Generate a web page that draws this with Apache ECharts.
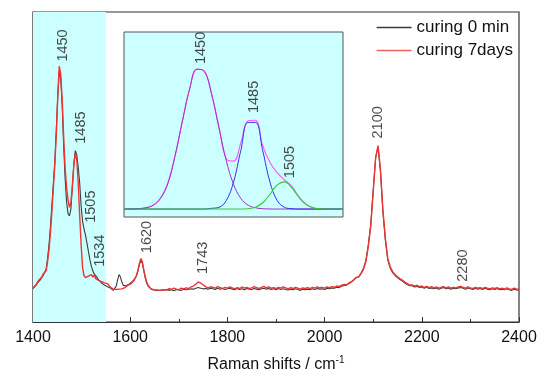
<!DOCTYPE html>
<html><head><meta charset="utf-8">
<script src="https://cdn.jsdelivr.net/npm/echarts@6/dist/echarts.min.js"></script>
<style>html,body{margin:0;padding:0;background:#fff}#c{width:545px;height:378px}</style>
</head><body><div id="c"></div>
<script>
// ---------- main spectrum ----------
const seriesNames = ['curing 0 min', 'curing 7days'];
// sampling grid: region A 1400..1667 step 3 (90 pts), region B 1670..2400 step 5 (147 pts)
const gridA = {start: 1400, step: 3, count: 90};
const gridB = {start: 1670, step: 5, count: 147};

const grayA = [
  10.8, 11.2, 11.8, 12.5, 13.0, 13.6, 14.2, 15.0, 15.5, 17.0,
  20.5, 25.0, 31.0, 38.0, 45.0, 52.0, 62.0, 73.0, 81.0, 78.5,
  70.0, 57.0, 46.5, 39.0, 35.0, 34.2, 36.5, 43.5, 51.0, 55.3,
  54.0, 50.0, 45.0, 37.5, 32.5, 30.0, 28.0, 25.5, 22.8, 20.2,
  18.0, 16.5, 15.5, 15.0, 14.3, 13.6, 13.1, 12.6, 12.3, 11.9,
  11.6, 11.4, 11.2, 11.0, 10.8, 10.2, 10.0, 11.5, 13.5, 15.3,
  14.5, 12.8, 11.8, 11.5, 11.7, 12.0, 12.3, 12.7, 13.0, 13.5,
  14.0, 15.0, 16.5, 18.5, 19.8, 19.0, 16.5, 14.2, 12.5, 11.5,
  11.0, 10.6, 10.5, 10.3, 10.4, 10.2, 10.3, 10.2, 10.4, 10.3
];
const redA = [
  11.0, 11.5, 12.0, 12.8, 13.5, 13.2, 14.5, 15.5, 15.0, 16.5,
  19.5, 23.5, 29.0, 36.0, 43.5, 51.0, 61.0, 73.0, 82.5, 80.0,
  72.0, 60.0, 50.0, 43.5, 39.5, 37.0, 38.5, 44.0, 50.5, 54.2,
  52.5, 45.0, 34.5, 25.0, 17.5, 15.0, 14.3, 14.0, 14.8, 14.2,
  15.3, 14.5, 15.2, 14.0, 14.6, 13.4, 13.8, 13.0, 13.5, 12.6,
  13.1, 12.4, 12.0, 11.3, 11.2, 10.6, 10.3, 10.5, 10.2, 10.6,
  10.8, 10.7, 11.2, 11.1, 11.6, 11.8, 11.9, 12.3, 12.6, 13.2,
  13.8, 15.0, 16.8, 19.0, 20.5, 19.5, 16.8, 14.6, 12.8, 11.8,
  11.2, 10.7, 10.6, 10.4, 10.7, 10.3, 10.5, 10.2, 10.6, 10.4
];
const grayB = [
  10.3, 10.5, 10.2, 10.4, 10.1, 10.5, 10.3, 10.2, 10.6, 10.4,
  10.5, 10.7, 10.6, 10.9, 11.1, 10.9, 10.7, 10.8, 10.6, 10.9,
  10.7, 10.5, 10.9, 10.6, 10.8, 10.5, 10.7, 10.9, 10.6, 10.4,
  10.8, 10.5, 10.7, 10.4, 10.8, 10.6, 10.5, 10.8, 10.6, 10.4,
  10.7, 10.9, 10.6, 10.8, 10.5, 10.7, 10.4, 10.8, 10.5, 10.7,
  10.5, 10.3, 10.6, 10.4, 10.7, 10.5, 10.2, 10.6, 10.4, 10.6,
  10.4, 10.7, 10.5, 10.8, 10.6, 10.7, 10.5, 10.9, 10.7, 11.0,
  10.9, 11.2, 11.1, 11.5, 11.8, 11.9, 12.4, 12.9, 13.5, 14.3,
  14.6, 15.8, 17.3, 19.9, 25.0, 31.5, 42.5, 53.0, 56.5, 48.5,
  35.5, 26.5, 20.0, 17.4, 15.9, 15.0, 14.3, 13.7, 13.2, 12.6,
  12.1, 11.7, 11.7, 11.3, 11.5, 11.1, 11.3, 10.9, 11.2, 10.8,
  11.0, 10.7, 11.0, 10.6, 10.9, 11.1, 10.7, 11.0, 10.6, 10.9,
  10.7, 11.0, 11.1, 10.9, 10.6, 11.0, 10.7, 10.5, 10.9, 10.6,
  10.8, 10.5, 10.9, 10.6, 10.4, 10.7, 10.5, 10.8, 10.4, 10.6,
  10.4, 10.7, 10.4, 10.2, 10.6, 10.3, 10.3
];
const redB = [
  10.6, 10.3, 10.8, 10.5, 10.9, 10.6, 10.4, 10.9, 10.7, 11.0,
  10.8, 11.3, 11.6, 12.2, 12.9, 12.6, 12.0, 11.4, 11.0, 11.3,
  11.2, 10.9, 11.4, 11.1, 10.8, 11.2, 10.9, 11.3, 11.0, 10.7,
  11.1, 10.8, 11.3, 10.9, 11.2, 10.8, 11.0, 11.4, 11.1, 10.8,
  11.2, 11.5, 11.0, 11.3, 10.9, 11.1, 10.8, 11.2, 10.9, 11.3,
  11.0, 10.7, 11.1, 10.8, 11.2, 10.9, 10.6, 11.0, 10.8, 11.1,
  10.8, 11.2, 10.9, 11.3, 11.0, 11.2, 10.9, 11.3, 11.1, 11.4,
  11.2, 11.6, 11.4, 11.9, 12.1, 12.0, 12.6, 13.0, 13.6, 14.4,
  14.5, 15.6, 17.0, 19.5, 24.5, 31.0, 42.0, 53.0, 56.9, 49.0,
  36.0, 27.0, 20.5, 17.8, 16.2, 15.3, 14.6, 14.0, 13.5, 12.9,
  12.4, 11.9, 12.0, 11.6, 11.8, 11.4, 11.6, 11.2, 11.5, 11.1,
  11.4, 11.0, 11.3, 10.9, 11.2, 11.4, 11.0, 11.3, 10.9, 11.2,
  11.0, 11.3, 11.5, 11.2, 10.9, 11.3, 11.0, 10.8, 11.2, 10.9,
  11.1, 10.8, 11.2, 10.9, 10.7, 11.0, 10.8, 11.1, 10.7, 10.9,
  10.6, 11.0, 10.7, 10.5, 10.9, 10.6, 10.6
];
const shadeRange = [1400, 1550];
const xTicks = {min: 1400, max: 2400, interval: 200};
// peak annotations: [wavenumber, intensity at label foot, text]
const mainPeakLabels = [
  [1461, 84, '1450'], [1498, 57.5, '1485'], [1519, 32, '1505'], [1538, 17.8, '1534'],
  [1634, 22.2, '1620'], [1750, 15.5, '1743'], [2109, 59.2, '2100'], [2285, 13, '2280']
];

// ---------- inset (band deconvolution 1400-1550) ----------
const insetX = [1400,1405,1410,1415,1420,1425,1430,1435,1440,1445,1450,1455,1460,1465,1470,1475,
  1480,1485,1490,1495,1500,1505,1510,1515,1520,1525,1530,1535,1540,1545,1550];
const band1450 = [4.3,4.35,4.5,5.0,6.3,10.0,18.0,33.2,51.8,69.3,79.9,78.7,66.4,48.2,30.7,17.7,
  10.1,6.4,5.0,4.5,4.35,4.3,4.3,4.3,4.3,4.3,4.3,4.3,4.3,4.3,4.3];
const band1485 = [4.3,4.3,4.3,4.3,4.3,4.3,4.3,4.3,4.3,4.3,4.3,4.3,4.7,5.2,8.8,18.8,
  35.9,51.1,51.1,35.9,18.8,8.8,5.2,4.5,4.3,4.3,4.3,4.3,4.3,4.3,4.3];
const band1505 = [4.3,4.3,4.3,4.3,4.3,4.3,4.3,4.3,4.3,4.3,4.3,4.3,4.3,4.3,4.3,4.3,
  4.3,4.5,5.3,7.7,12.3,17.4,19.0,15.7,10.4,6.6,4.9,4.4,4.3,4.3,4.3];
const envelope = [4.3,4.35,4.5,5.0,6.4,10.3,18.3,33.2,51.8,69.3,79.9,79.0,66.5,49.0,31.5,30.2,
  40.0,52.0,52.3,38.5,29.5,23.8,20.0,16.5,10.8,6.7,4.9,4.4,4.3,4.3,4.3];
const insetPeakLabels = [[1452.5, 82.7, '1450'], [1489, 56.2, '1485'], [1513.7, 21, '1505']];

const FONT = '"Liberation Sans", Arial, sans-serif';
function grid(g){ const a=[]; for(let i=0;i<g.count;i++) a.push(g.start+i*g.step); return a; }
const wn = grid(gridA).concat(grid(gridB));
const gray = grayA.concat(grayB), red = redA.concat(redB);
const pair = (xs, ys) => xs.map((x,i)=>[x, ys[i]]);

const labelStyle = {show:true, rotate:90, position:'inside', align:'left', verticalAlign:'middle',
  fontSize:14.5, color:'#1a1a1a', fontFamily:FONT, formatter:p=>p.data[2]};

const chart = echarts.init(document.getElementById('c'), null, {renderer:'canvas'});
chart.setOption({
  animation:false,
  textStyle:{fontFamily:FONT},
  grid:[
    {left:33, right:26, top:12, bottom:50, show:true, borderColor:'#333', borderWidth:1.2, backgroundColor:'transparent'},
    {left:124, top:32, width:219, height:185, show:true, borderColor:'#555', borderWidth:1, backgroundColor:'#ccffff'}
  ],
  legend:{orient:'vertical', right:27, top:14, itemWidth:35, itemHeight:1.6, itemGap:6, icon:'rect',
    data:seriesNames, textStyle:{fontSize:17, color:'#111', fontFamily:FONT}},
  xAxis:[
    {type:'value', gridIndex:0, min:xTicks.min, max:xTicks.max, interval:xTicks.interval,
     axisLine:{lineStyle:{color:'#333', width:1.2}},
     axisTick:{inside:true, length:5, lineStyle:{color:'#333'}},
     minorTick:{show:true, splitNumber:2, length:3, lineStyle:{color:'#333'}},
     splitLine:{show:false},
     axisLabel:{fontSize:16, color:'#111', margin:8, fontFamily:FONT, formatter:v=>String(v)},
     name:'{a|Raman shifts / cm}{s|-1}', nameLocation:'middle', nameGap:33,
     nameTextStyle:{rich:{a:{fontSize:16, color:'#111', fontFamily:FONT}, s:{fontSize:10, color:'#111', verticalAlign:'top', padding:[0,0,10,0], fontFamily:FONT}}}},
    {type:'value', gridIndex:1, min:1400, max:1550, show:false}
  ],
  yAxis:[
    {type:'value', gridIndex:0, min:0, max:100, axisLine:{show:true, lineStyle:{color:'#333', width:1.2}},
     axisTick:{show:false}, axisLabel:{show:false}, splitLine:{show:false}},
    {type:'value', gridIndex:1, min:0, max:100, show:false}
  ],
  series:[
    {type:'line', name:'shade', xAxisIndex:0, yAxisIndex:0, data:[], z:1, silent:true,
     markArea:{silent:true, itemStyle:{color:'#ccffff'}, data:[[{xAxis:shadeRange[0]},{xAxis:shadeRange[1]}]]}},
    {type:'line', name:seriesNames[0], data:pair(wn, gray), showSymbol:false, symbol:'none',
     lineStyle:{color:'#3c3c3c', width:1.1}, itemStyle:{color:'#3c3c3c'}, z:3},
    {type:'line', name:seriesNames[1], data:pair(wn, red), showSymbol:false, symbol:'none',
     lineStyle:{color:'#f03434', width:1.4}, itemStyle:{color:'#f36060'}, z:4},
    {type:'scatter', data:mainPeakLabels, symbolSize:0, silent:true, label:labelStyle, z:5},
    {type:'line', xAxisIndex:1, yAxisIndex:1, data:pair(insetX, envelope), smooth:0.4, symbol:'none',
     lineStyle:{color:'#ff55ff', width:1.1}, z:6},
    {type:'line', xAxisIndex:1, yAxisIndex:1, data:pair(insetX, band1450), smooth:0.4, symbol:'none',
     lineStyle:{color:'#a030c8', width:1}, z:7},
    {type:'line', xAxisIndex:1, yAxisIndex:1, data:pair(insetX, band1485), smooth:0.4, symbol:'none',
     lineStyle:{color:'#3333ee', width:1}, z:7},
    {type:'line', xAxisIndex:1, yAxisIndex:1, data:pair(insetX, band1505), smooth:0.4, symbol:'none',
     lineStyle:{color:'#33cc33', width:1.1}, z:8},
    {type:'scatter', xAxisIndex:1, yAxisIndex:1, data:insetPeakLabels, symbolSize:0, silent:true, label:labelStyle, z:9}
  ]
});
</script></body></html>
